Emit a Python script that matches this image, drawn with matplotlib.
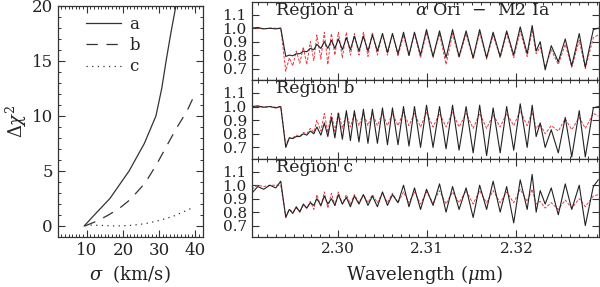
import matplotlib
matplotlib.use("Agg")
import matplotlib.pyplot as plt
from matplotlib.ticker import MultipleLocator, FormatStrFormatter, FixedLocator

plt.rcParams['font.family'] = ['DejaVu Serif']
plt.rcParams['mathtext.fontset'] = 'dejavuserif'

# left panel: delta chi^2 vs velocity dispersion
sig_a = [9.3, 12.1, 16.4, 21.7, 25.9, 29.1, 30.7, 31.9, 33.2, 34.6]
chi_a = [0.0, 1.0, 2.5, 5.0, 7.5, 10.0, 12.5, 15.0, 17.5, 20.0]
sig_b = [9.5, 13.2, 16.0, 19.0, 22.0, 26.1, 29.3, 32.1, 34.8, 37.6, 39.6]
chi_b = [0.0, 0.5, 1.0, 1.6, 2.4, 3.9, 5.6, 7.3, 8.9, 10.4, 11.8]
sig_c = [9.5, 14.0, 18.0, 22.0, 26.0, 30.0, 34.0, 39.5]
chi_c = [0.1, 0.05, 0.0, 0.05, 0.2, 0.5, 0.9, 1.7]

# right panels: spectra sampled at line peaks / troughs (micron)
wave = [2.29030, 2.29098, 2.29165, 2.29233, 2.29300, 2.29356, 2.29412, 2.29452,
        2.29491, 2.29530, 2.29570, 2.29609, 2.29648, 2.29688, 2.29727, 2.29761,
        2.29806, 2.29845, 2.29884, 2.29924, 2.29963, 2.30002, 2.30047, 2.30092,
        2.30137, 2.30182, 2.30233, 2.30283, 2.30334, 2.30384, 2.30440, 2.30497,
        2.30553, 2.30609, 2.30671, 2.30733, 2.30794, 2.30856, 2.30924, 2.30991,
        2.31064, 2.31137, 2.31210, 2.31283, 2.31356, 2.31435, 2.31514, 2.31587,
        2.31665, 2.31738, 2.31817, 2.31890, 2.31969, 2.32042, 2.32120, 2.32176,
        2.32221, 2.32266, 2.32322, 2.32390, 2.32469, 2.32547, 2.32620, 2.32704,
        2.32772, 2.32862, 2.32918]

obs_a = [1.00, 1.005, 0.995, 1.00, 0.995, 1.00, 0.79, 0.80, 0.795, 0.81, 0.81, 0.83,
         0.825, 0.85, 0.84, 0.88, 0.85, 0.90, 0.85, 0.91, 0.85, 0.92, 0.84, 0.93,
         0.84, 0.94, 0.83, 0.94, 0.83, 0.95, 0.83, 0.96, 0.82, 0.96, 0.81, 0.97,
         0.80, 0.97, 0.80, 0.99, 0.79, 0.98, 0.78, 0.99, 0.79, 0.98, 0.78, 0.99,
         0.78, 0.97, 0.79, 0.98, 0.80, 1.01, 0.81, 1.02, 0.83, 0.90, 0.69, 0.87,
         0.75, 0.92, 0.72, 0.96, 0.71, 0.99, 1.00]
mod_a = [1.00, 1.00, 0.995, 1.00, 1.00, 1.00, 0.68, 0.78, 0.72, 0.83, 0.74, 0.86,
         0.73, 0.90, 0.76, 0.95, 0.77, 0.97, 0.73, 0.96, 0.80, 0.97, 0.78, 0.97,
         0.80, 0.96, 0.80, 0.97, 0.79, 0.97, 0.80, 0.96, 0.80, 0.96, 0.79, 0.95,
         0.79, 0.96, 0.78, 0.97, 0.78, 0.96, 0.73, 0.96, 0.78, 0.96, 0.77, 0.97,
         0.77, 0.95, 0.78, 0.96, 0.78, 0.98, 0.79, 0.99, 0.81, 0.86, 0.71, 0.84,
         0.73, 0.88, 0.71, 0.91, 0.70, 0.93, 0.95]
obs_b = [1.00, 1.005, 0.995, 1.00, 0.99, 1.00, 0.70, 0.77, 0.765, 0.78, 0.78, 0.80,
         0.79, 0.82, 0.80, 0.85, 0.79, 0.88, 0.78, 0.92, 0.77, 0.95, 0.76, 0.97,
         0.75, 0.97, 0.74, 0.98, 0.73, 0.98, 0.73, 0.99, 0.72, 0.99, 0.72, 1.00,
         0.71, 1.00, 0.70, 1.01, 0.70, 1.00, 0.69, 1.01, 0.68, 1.00, 0.66, 1.01,
         0.64, 0.99, 0.66, 1.00, 0.68, 1.02, 0.70, 1.01, 0.78, 0.88, 0.70, 0.83,
         0.66, 0.92, 0.63, 0.97, 0.63, 0.99, 1.00]
mod_b = [1.00, 1.00, 0.995, 1.00, 0.995, 1.00, 0.72, 0.77, 0.77, 0.79, 0.78, 0.81,
         0.80, 0.84, 0.81, 0.90, 0.82, 0.95, 0.81, 0.95, 0.82, 0.96, 0.84, 0.95,
         0.85, 0.95, 0.86, 0.95, 0.86, 0.95, 0.86, 0.95, 0.86, 0.95, 0.86, 0.96,
         0.86, 0.95, 0.85, 0.96, 0.85, 0.95, 0.85, 0.96, 0.85, 0.95, 0.84, 0.95,
         0.84, 0.94, 0.85, 0.95, 0.86, 0.97, 0.86, 0.96, 0.84, 0.87, 0.80, 0.86,
         0.82, 0.91, 0.83, 0.92, 0.84, 0.95, 0.93]
obs_c = [0.94, 0.99, 0.97, 1.00, 0.98, 1.03, 0.76, 0.82, 0.79, 0.84, 0.80, 0.86,
         0.83, 0.87, 0.85, 0.90, 0.85, 0.92, 0.86, 0.90, 0.85, 0.93, 0.86, 0.91,
         0.84, 0.92, 0.86, 0.93, 0.85, 0.92, 0.84, 0.95, 0.85, 0.93, 0.87, 1.00,
         0.84, 0.98, 0.82, 0.97, 0.85, 1.01, 0.80, 0.99, 0.82, 0.98, 0.76, 1.00,
         0.82, 1.03, 0.80, 0.99, 0.72, 1.04, 0.82, 1.08, 0.80, 0.96, 0.86, 0.98,
         0.78, 1.01, 0.82, 1.00, 0.70, 0.99, 1.04]
mod_c = [0.97, 1.00, 0.99, 1.00, 1.00, 1.00, 0.77, 0.82, 0.80, 0.83, 0.81, 0.85,
         0.83, 0.88, 0.82, 0.93, 0.84, 0.95, 0.83, 0.94, 0.85, 0.95, 0.86, 0.93,
         0.86, 0.93, 0.87, 0.93, 0.87, 0.93, 0.87, 0.94, 0.87, 0.94, 0.87, 0.95,
         0.87, 0.95, 0.86, 0.95, 0.87, 0.96, 0.86, 0.95, 0.87, 0.96, 0.86, 0.96,
         0.87, 0.96, 0.87, 0.95, 0.87, 0.97, 0.88, 0.97, 0.86, 0.88, 0.83, 0.87,
         0.82, 0.89, 0.83, 0.90, 0.84, 0.92, 0.93]

regions = ['Region a', 'Region b', 'Region c']
observed = [obs_a, obs_b, obs_c]
models = [mod_a, mod_b, mod_c]
flux_ticks = [0.7, 0.8, 0.9, 1.0, 1.1]

ink = '#333333'
red = '#e23d45'


def style_axis(ax):
    for s in ax.spines.values():
        s.set_color(ink)
        s.set_linewidth(0.9)
    ax.tick_params(which='both', direction='in', top=True, right=True,
                   colors=ink, labelcolor='#222222', labelsize=11)
    ax.tick_params(which='major', length=5, width=0.8)
    ax.tick_params(which='minor', length=2.5, width=0.7)


fig = plt.figure(figsize=(6.0, 2.87), dpi=100)

# ---- left panel
ax = fig.add_axes([0.0962, 0.1742, 0.2417, 0.8060])
ax.plot(sig_a, chi_a, color=ink, lw=0.9, label='a')
ax.plot(sig_b, chi_b, color=ink, lw=0.9, dashes=(9, 7), label='b')
ax.plot(sig_c, chi_c, color=ink, lw=0.9, linestyle=(0, (1, 3.5)), label='c')
ax.set_xlim(2, 42)
ax.set_ylim(-1, 20)
ax.xaxis.set_major_locator(MultipleLocator(10))
ax.xaxis.set_minor_locator(MultipleLocator(1))
ax.yaxis.set_major_locator(MultipleLocator(5))
ax.yaxis.set_minor_locator(MultipleLocator(1))
style_axis(ax)
ax.tick_params(labelsize=12)
ax.set_xlabel(r'$\sigma$  (km/s)', fontsize=13, color='#222222', labelpad=3)
ax.set_ylabel(r'$\Delta\chi^2$', fontsize=13, color='#222222', labelpad=2)
leg = ax.legend(loc='upper left', bbox_to_anchor=(0.09, 1.02), frameon=False,
                fontsize=12, handlelength=2.1, handletextpad=0.5, labelspacing=0.25)
for t in leg.get_texts():
    t.set_color('#222222')

# ---- right panels
tops = [0.7213, 0.4460, 0.1742]
heights = [0.2718, 0.2753, 0.2718]
for i in range(3):
    ax = fig.add_axes([0.4195, tops[i], 0.578, heights[i]])
    ax.plot(wave, models[i], color=red, lw=0.7, dashes=(3, 1.5))
    ax.plot(wave, observed[i], color='#222222', lw=0.8)
    ax.set_xlim(2.2903, 2.3292)
    ax.set_ylim(0.615, 1.195)
    ax.xaxis.set_major_locator(MultipleLocator(0.01))
    ax.xaxis.set_minor_locator(MultipleLocator(0.001))
    ax.yaxis.set_major_locator(FixedLocator(flux_ticks))
    ax.yaxis.set_major_formatter(FormatStrFormatter('%.1f'))
    style_axis(ax)
    ax.text(0.07, 1.0, regions[i], transform=ax.transAxes, ha='left', va='top',
            fontsize=12.5, color='#222222')
    if i == 0:
        ax.text(0.47, 1.0, r'$\alpha$ Ori  $-$  M2 Ia', transform=ax.transAxes,
                ha='left', va='top', fontsize=12.5, color='#222222')
    if i < 2:
        ax.tick_params(labelbottom=False)
    else:
        ax.xaxis.set_major_formatter(FormatStrFormatter('%.2f'))
        ax.set_xlabel(r'Wavelength ($\mu$m)', fontsize=13, color='#222222', labelpad=5)

fig.savefig('out.png', dpi=100)
